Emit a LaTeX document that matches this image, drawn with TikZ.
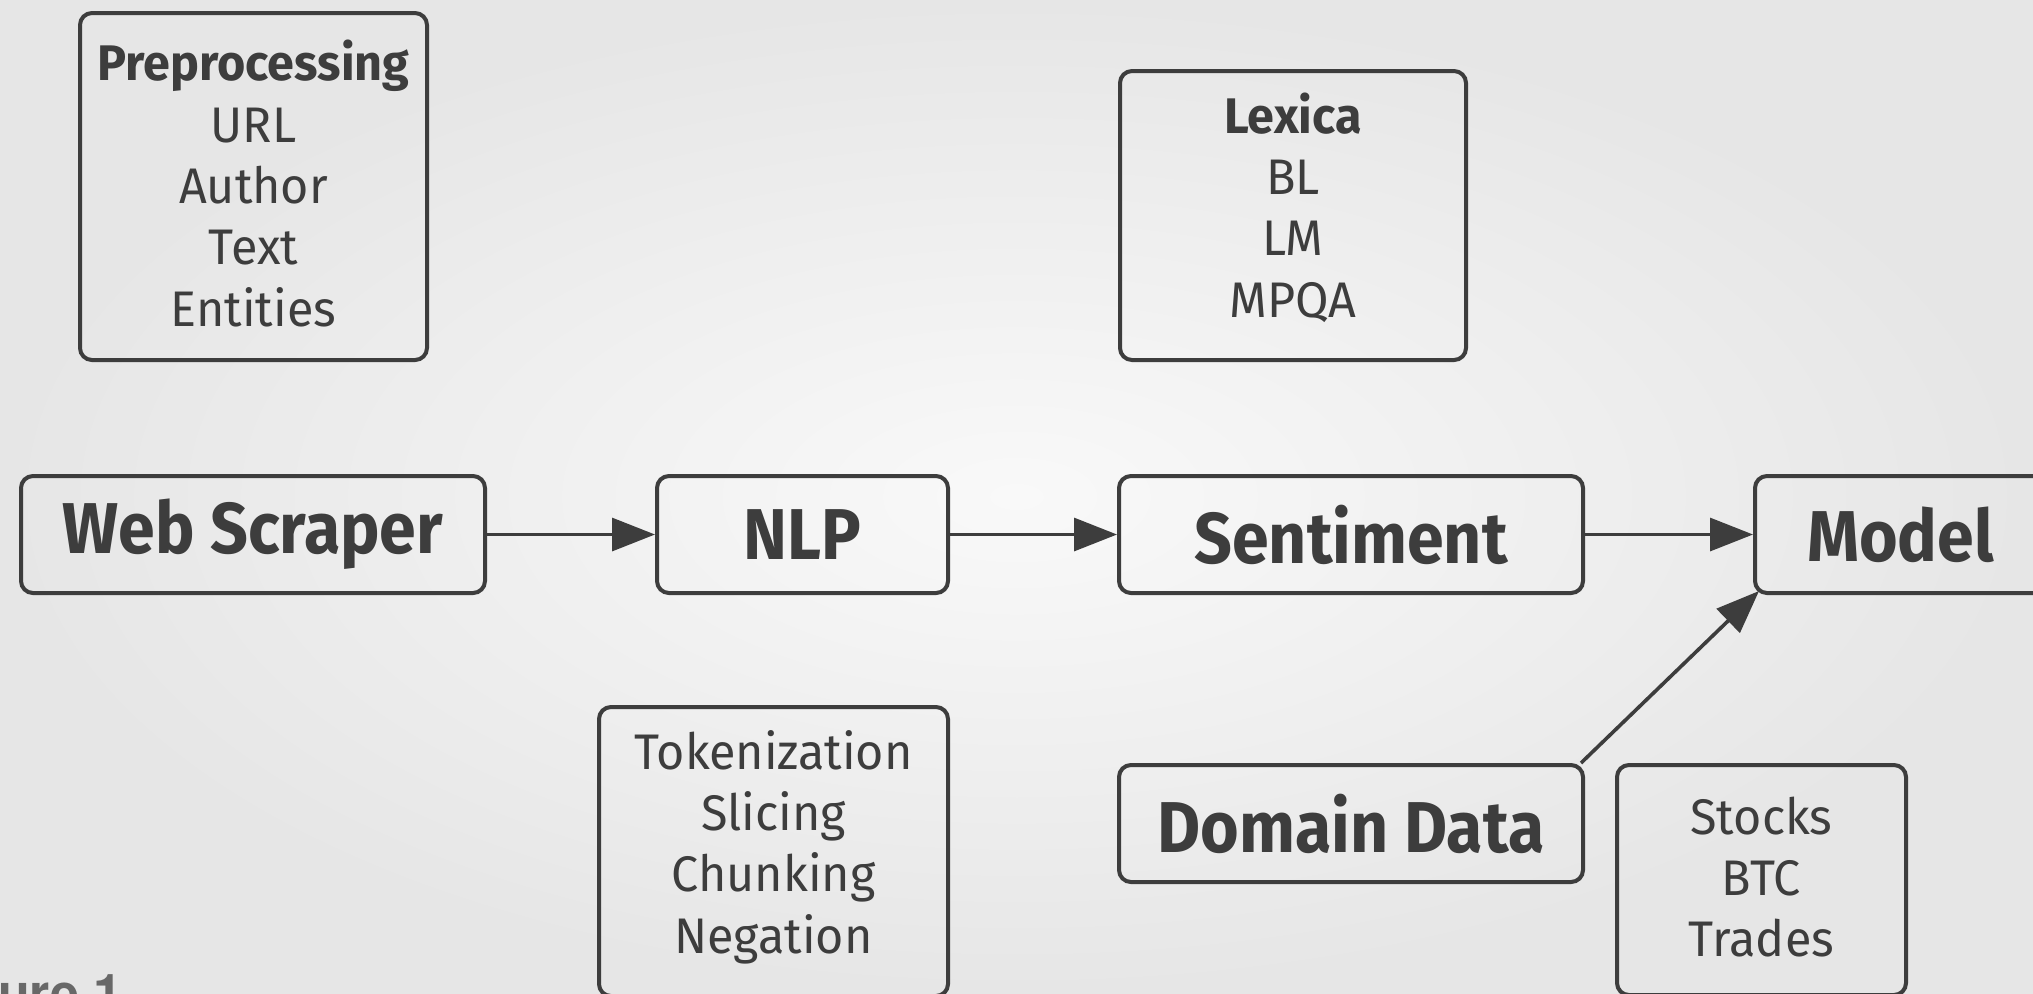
\documentclass[tikz,border=0pt]{standalone}
\usepackage{fontspec}
\setmainfont{Fira Sans}[FakeStretch=0.97]
\newfontfamily\bigfont{Fira Sans}[FakeStretch=0.92]
\newfontfamily\figfont{TeX Gyre Heros}
\usetikzlibrary{arrows.meta,calc}
\definecolor{ink}{HTML}{3D3D3D}
\definecolor{bgin}{HTML}{F9F9F9}
\definecolor{bgout}{HTML}{E6E6E6}
\definecolor{figgray}{HTML}{686868}
\begin{document}
\begin{tikzpicture}[x=0.5pt,y=-0.5pt,
  box/.style={draw=ink, line width=2pt, rounded corners=6pt, inner sep=0pt, text=ink},
  big/.style={box, font=\bigfont\fontsize{36}{43}\selectfont\bfseries, minimum height=58.5pt},
  listbox/.style={box},
  listtext/.style={inner sep=0pt, text=ink, font=\fontsize{25}{30.7}\selectfont, align=center},
  link/.style={draw=ink, line width=1.6pt},
  thick link/.style={draw=ink, line width=2.5pt},
  arr/.style={link, -{Triangle[length=21.5pt,width=16.5pt]}}]
\useasboundingbox (0,0) rectangle (2033,993);
\shade[inner color=bgin, outer color=bgout] (0,0) rectangle (2033,993);
\begin{scope}
\clip (0,0) rectangle (2033,993);
% list boxes
\node[listbox, minimum width=173.5pt, minimum height=173.5pt] (pre) at (253.5,186.5) {};
\node[listtext] (pre-t) at ($(pre)+(0,-3)$)
  {\textbf{Preprocessing}\\URL\\Author\\Text\\Entities};
\node[listbox, minimum width=173pt, minimum height=144.5pt] (lex) at (1293,215.5) {};
\node[listtext] (lex-t) at ($(lex)+(0,-8)$)
  {\textbf{Lexica}\\BL\\LM\\MPQA};
\node[listbox, minimum width=174.5pt, minimum height=144.5pt] (tok) at (773.5,851.5) {};
\node[listtext] (tok-t) at ($(tok)+(0,-4.5)$)
  {Tokenization\\Slicing\\Chunking\\Negation};
\node[listbox, minimum width=144.5pt, minimum height=115pt] (st) at (1761.5,880) {};
\node[listtext] (st-t) at ($(st)+(0,-3)$)
  {Stocks\\BTC\\Trades};
% main boxes
\node[big, minimum width=232pt] (ws) at (253,534.5) {Web Scraper};
\node[big, minimum width=145.5pt] (nlp) at (802.5,534.5) {NLP};
\node[big, minimum width=232pt] (sent) at (1351,534.5) {Sentiment};
\node[big, minimum width=145.5pt] (model) at (1900.5,534.5) {Model};
\node[big, minimum width=232pt] (dd) at (1351,823.5) {Domain Data};
% connectors
\draw[thick link] ($(pre.south)+(-59,0)$) -- ($(pre.south)+(-59,0)$ |- ws.north);
\draw[link] ($(lex.south)+(-57,0)$) -- ($(lex.south)+(-57,0)$ |- sent.north);
\draw[link] ($(nlp.south)+(87,0)$) -- ($(nlp.south)+(87,0)$ |- tok.north);
\draw[link] ($(dd.east)+(0,19)$) -- ($(dd.east)+(0,19)$ -| st.west);
\draw[arr] (ws.east) -- (nlp.west);
\draw[arr] (nlp.east) -- (sent.west);
\draw[arr] (sent.east) -- (model.west);
\draw[arr, line width=1.8pt] ([xshift=-2pt]dd.north east) -- ([xshift=3pt,yshift=2pt]model.south west);
% caption fragment
\node[anchor=base east, font=\figfont\bfseries\fontsize{26}{30}\selectfont, text=figgray, inner sep=0pt] (fig) at (123,1011) {Figure 1};
\end{scope}
\end{tikzpicture}
\end{document}
